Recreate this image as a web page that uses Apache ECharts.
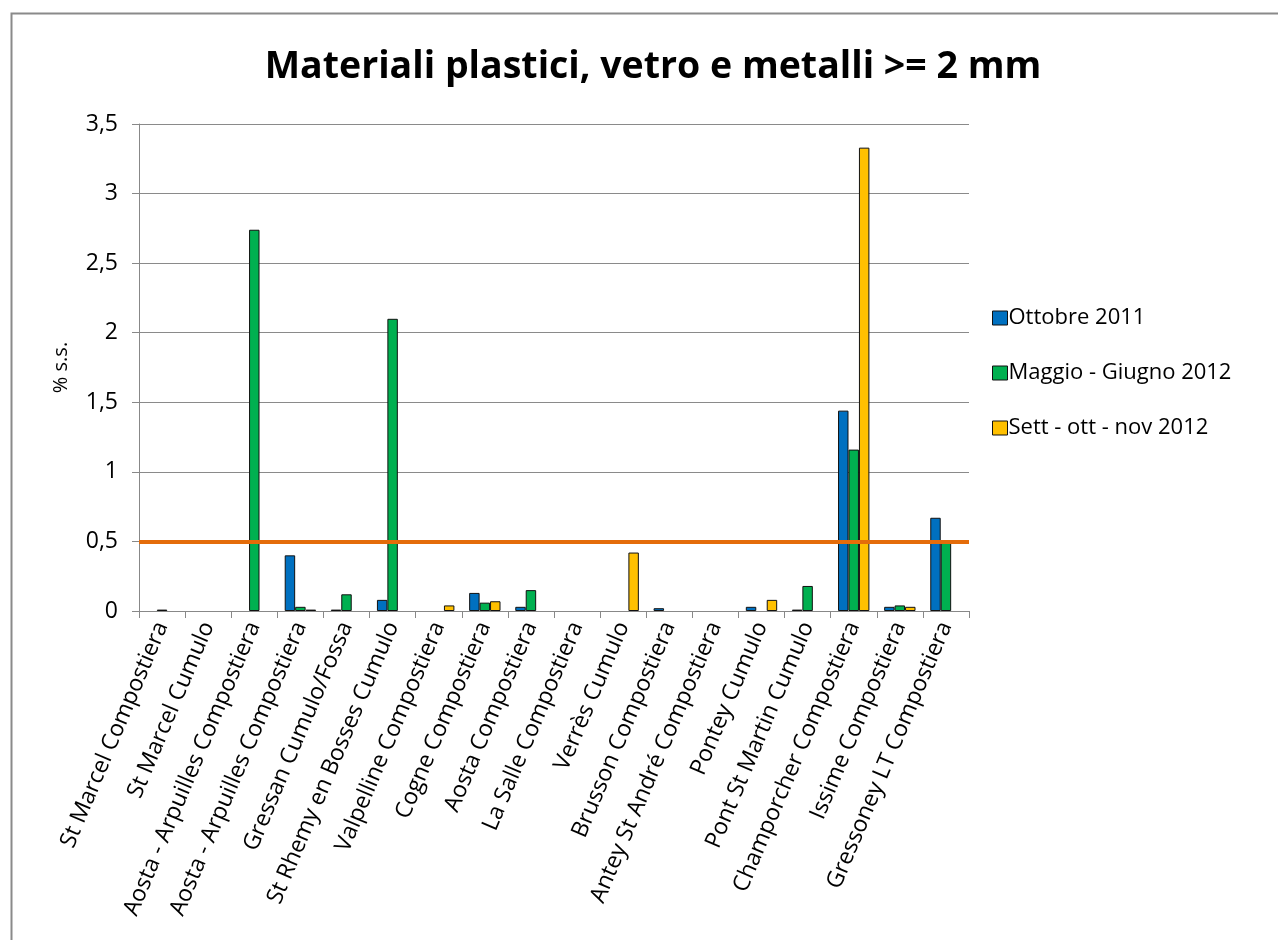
<!DOCTYPE html>
<html>
<head>
<meta charset="utf-8">
<script src="https://cdn.jsdelivr.net/npm/echarts@6/dist/echarts.min.js"></script>
<style>
html,body{margin:0;padding:0;background:#fff;}
#chart{width:1278px;height:940px;}
</style>
</head>
<body>
<div id="chart"></div>
<script>
const categories = ['St Marcel Compostiera','St Marcel Cumulo','Aosta - Arpuilles Compostiera','Aosta - Arpuilles Compostiera','Gressan Cumulo/Fossa','St Rhemy en Bosses Cumulo','Valpelline Compostiera','Cogne Compostiera','Aosta Compostiera','La Salle Compostiera','Verrès Cumulo','Brusson Compostiera','Antey St André Compostiera','Pontey Cumulo','Pont St Martin Cumulo','Champorcher Compostiera','Issime Compostiera','Gressoney LT Compostiera'];
const seriesNames = ['Ottobre 2011','Maggio - Giugno 2012','Sett - ott - nov 2012'];
const ottobre2011 = [null,null,null,0.40,0.01,0.08,null,0.13,0.03,null,null,0.02,null,0.03,0.01,1.44,0.03,0.67];
const maggioGiugno2012 = [0.01,null,2.74,0.03,0.12,2.10,null,0.06,0.15,null,null,null,null,null,0.18,1.16,0.04,0.49];
const settOttNov2012 = [null,null,null,0.01,null,null,0.04,0.07,null,null,0.42,null,null,0.08,null,3.33,0.03,null];
const thresholdValue = 0.5;
const yTicks = [0,0.5,1,1.5,2,2.5,3,3.5];

const colors = ['#0070C0','#00B050','#FFC000'];
const font = '"Open Sans", Lato, sans-serif';
const chart = echarts.init(document.getElementById('chart'));
const values = [ottobre2011, maggioGiugno2012, settOttNov2012];

const series = values.map((d,i)=>({
  name: seriesNames[i],
  type: 'bar',
  data: d,
  barGap: '0%',
  barCategoryGap: '32%',
  itemStyle: {color: colors[i], borderColor: '#111', borderWidth: 1},
  emphasis: {disabled: true}
}));
series[2].markLine = {
  silent: true,
  symbol: ['none','none'],
  label: {show: false},
  lineStyle: {color: '#E46C0A', width: 4, type: 'solid'},
  data: [{yAxis: thresholdValue}],
  z: 10
};

chart.setOption({
  animation: false,
  backgroundColor: '#fff',
  graphic: [{
    type: 'rect', left: 9, top: 11,
    shape: {width: 1400, height: 1100},
    style: {fill: 'none', stroke: '#8a8a8a', lineWidth: 2}
  }],
  title: {
    text: 'Materiali plastici, vetro e metalli >= 2 mm',
    left: 648, top: 43, textAlign: 'center',
    textStyle: {fontFamily: font, fontWeight: 'bold', fontSize: 37.5, color: '#000'}
  },
  legend: {
    orient: 'vertical',
    left: 987, top: 302,
    itemWidth: 15, itemHeight: 14, itemGap: 33,
    icon: 'rect',
    textStyle: {fontFamily: font, fontSize: 22, color: '#000', padding: [0,0,0,-4]},
    itemStyle: {borderColor: '#111', borderWidth: 1},
    data: seriesNames
  },
  grid: {left: 139, top: 124, right: 309, bottom: 329, containLabel: false},
  xAxis: {
    type: 'category',
    data: categories,
    axisLine: {lineStyle: {color: '#888', width: 1}},
    axisTick: {show: true, length: 7, alignWithLabel: false, lineStyle: {color: '#888'}},
    axisLabel: {
      interval: 0, rotate: 67, margin: 12,
      fontFamily: font, fontSize: 23, color: '#000'
    }
  },
  yAxis: {
    type: 'value',
    min: 0, max: 3.5, interval: 0.5,
    name: '% s.s.',
    nameLocation: 'middle',
    nameRotate: 90,
    nameGap: 68,
    nameTextStyle: {fontFamily: font, fontSize: 20, color: '#000'},
    axisLine: {show: true, lineStyle: {color: '#888', width: 1}},
    axisTick: {show: true, length: 7, lineStyle: {color: '#888'}},
    splitLine: {show: true, lineStyle: {color: '#8a8a8a', width: 1}},
    axisLabel: {
      fontFamily: font, fontSize: 23, color: '#000', margin: 21,
      formatter: v => yTicks.includes(v) ? String(v).replace('.', ',') : ''
    }
  },
  series: series
});
</script>
</body>
</html>
